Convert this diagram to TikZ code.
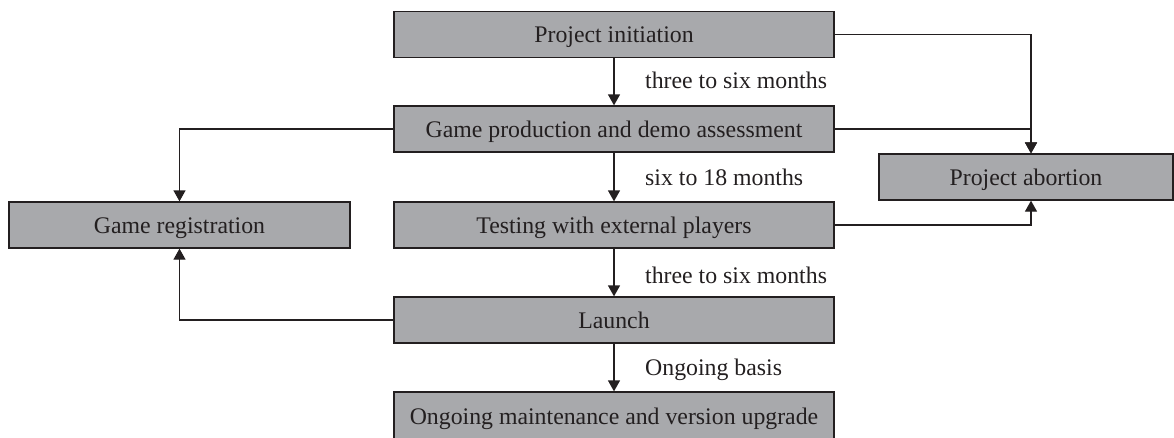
\documentclass[tikz,border=0pt]{standalone}
\usepackage{fontspec}
\setmainfont{Liberation Serif}
\usetikzlibrary{arrows.meta}
\definecolor{boxfill}{RGB}{168,169,172}
\definecolor{ink}{RGB}{35,31,32}

\begin{document}
\begin{tikzpicture}[x=1pt,y=-1pt,
  stage/.style={draw=ink, line width=1.3pt, fill=boxfill, minimum height=46pt,
    inner sep=0pt, text height=16pt, text depth=0pt, text=ink,
    font=\fontsize{23.8}{28}\selectfont},
  flow/.style={draw=ink, line width=1.3pt, -{Triangle[width=12pt,length=11pt]}},
  note/.style={anchor=west, inner sep=0pt, text height=16pt, text depth=0pt,
    text=ink, font=\fontsize{23.8}{28}\selectfont}]
\useasboundingbox (0,0) rectangle (1174,437);

% main column of stages
\node[stage, minimum width=440pt] (PI) at (614,34.5) {Project initiation};
\node[stage, minimum width=440pt] (GP) at (614,129) {Game production and demo assessment};
\node[stage, minimum width=440pt] (TE) at (614,225) {Testing with external players};
\node[stage, minimum width=440pt] (LA) at (614,320) {Launch};
\node[stage, minimum width=440pt, minimum height=48pt] (OM) at (614,416) {Ongoing maintenance and version upgrade};

% side outcomes
\node[stage, minimum width=341pt] (GR) at (179.5,225) {Game registration};
\node[stage, minimum width=294pt] (PA) at (1026,177) {Project abortion};
\coordinate (PAin) at ([xshift=5pt]PA.north);
\coordinate (PAout) at ([xshift=5pt]PA.south);

% main flow with durations
\draw[flow] (PI) -- (GP);
\draw[flow] (GP) -- (TE);
\draw[flow] (TE) -- (LA);
\draw[flow] (LA) -- (OM);
\node[note] (d1) at (645,80) {three to six months};
\node[note] (d2) at (645,177) {six to 18 months};
\node[note] (d3) at (645,275) {three to six months};
\node[note] (d4) at (645,367) {Ongoing basis};

% branches to abortion
\draw[flow] (PI.east) -| (PAin);
\draw[flow] (GP.east) -| (PAin);
\draw[flow] (TE.east) -| (PAout);

% branches to registration
\draw[flow] (GP.west) -| (GR.north);
\draw[flow] (LA.west) -| (GR.south);
\end{tikzpicture}
\end{document}
